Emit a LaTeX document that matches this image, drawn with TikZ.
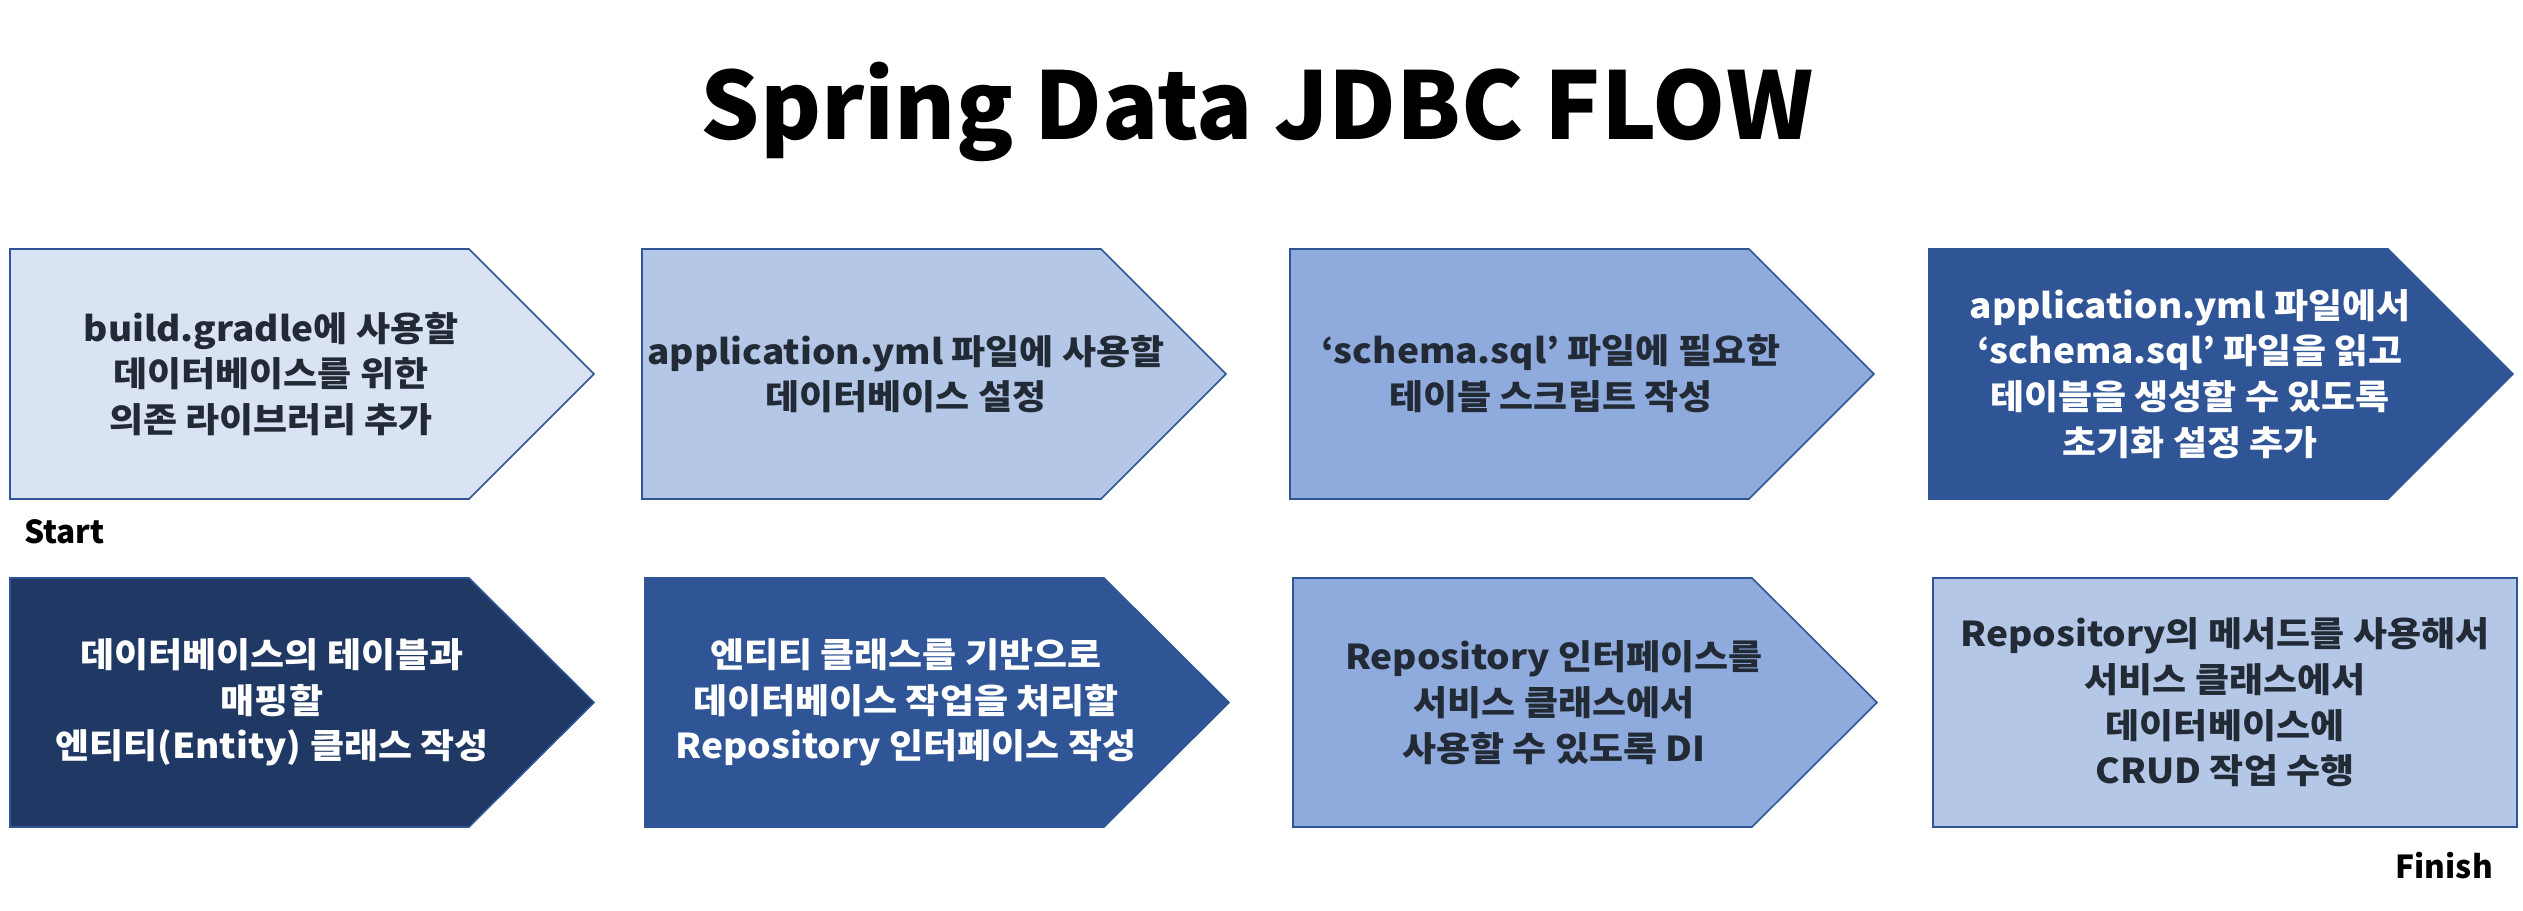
\documentclass[tikz,border=0pt]{standalone}
\usepackage{fontspec}
\setmainfont{Noto Sans CJK KR}
\newfontfamily\stepfont{Noto Sans CJK KR}[FakeStretch=1.08]
\usepackage{xcolor}
\usepackage{tikz}
\usetikzlibrary{positioning}
\definecolor{FlowPale}{RGB}{218, 227, 243}
\definecolor{FlowLight}{RGB}{180, 199, 231}
\definecolor{FlowMid}{RGB}{143, 170, 220}
\definecolor{FlowBlue}{RGB}{47, 85, 151}
\definecolor{FlowNavy}{RGB}{32, 56, 100}
\definecolor{FlowText}{RGB}{34, 42, 53}

\begin{document}
\begin{tikzpicture}[every node/.style={font=\fontsize{18}{25.5}\selectfont\bfseries},
    stepbox/.style={draw=FlowBlue, line width=0.9pt},
    steptext/.style={align=center, text=FlowText, font=\stepfont\fontsize{19.5}{26}\selectfont\bfseries},
    stepwhite/.style={steptext, text=white}]
  \useasboundingbox (0,0) rectangle (50.46,-18.22);
  \node[anchor=base, font=\fontsize{53}{56}\selectfont\bfseries] (title) at (25.14,-2.8) {Spring Data JDBC FLOW};
  % first row
  \draw[stepbox, fill=FlowPale] (0.2,-4.98) -- ++(9.18,0) -- ++(2.5,-2.5) -- ++(-2.5,-2.5) -- ++(-9.18,0) -- cycle;
  \draw[stepbox, fill=FlowLight] (12.84,-4.98) -- ++(9.18,0) -- ++(2.5,-2.5) -- ++(-2.5,-2.5) -- ++(-9.18,0) -- cycle;
  \draw[stepbox, fill=FlowMid] (25.8,-4.98) -- ++(9.18,0) -- ++(2.5,-2.5) -- ++(-2.5,-2.5) -- ++(-9.18,0) -- cycle;
  \draw[stepbox, fill=FlowBlue] (38.58,-4.98) -- ++(9.18,0) -- ++(2.5,-2.5) -- ++(-2.5,-2.5) -- ++(-9.18,0) -- cycle;
  \node[steptext] (s1) at (5.42,-7.48) {build.gradle에 사용할\\데이터베이스를 위한\\의존 라이브러리 추가};
  \node[steptext] (s2) at (18.12,-7.48) {application.yml 파일에 사용할\\데이터베이스 설정};
  \node[steptext] (s3) at (31.02,-7.48) {‘schema.sql’ 파일에 필요한\\테이블 스크립트 작성};
  \node[stepwhite] (s4) at (43.80,-7.48) {application.yml 파일에서\\‘schema.sql’ 파일을 읽고\\테이블을 생성할 수 있도록\\초기화 설정 추가};
  \node[anchor=base west] (start) at (0.36,-10.86) {Start};
  % second row
  \draw[stepbox, fill=FlowNavy] (0.2,-11.56) -- ++(9.18,0) -- ++(2.5,-2.49) -- ++(-2.5,-2.49) -- ++(-9.18,0) -- cycle;
  \draw[stepbox, fill=FlowBlue] (12.9,-11.56) -- ++(9.18,0) -- ++(2.5,-2.49) -- ++(-2.5,-2.49) -- ++(-9.18,0) -- cycle;
  \draw[stepbox, fill=FlowMid] (25.86,-11.56) -- ++(9.18,0) -- ++(2.5,-2.49) -- ++(-2.5,-2.49) -- ++(-9.18,0) -- cycle;
  \draw[stepbox, fill=FlowLight] (38.66,-11.56) rectangle (50.34,-16.54);
  \node[stepwhite] (s5) at (5.44,-14.05) {데이터베이스의 테이블과\\매핑할\\엔티티(Entity) 클래스 작성};
  \node[stepwhite] (s6) at (18.12,-14.05) {엔티티 클래스를 기반으로\\데이터베이스 작업을 처리할\\Repository 인터페이스 작성};
  \node[steptext] (s7) at (31.08,-14.05) {Repository 인터페이스를\\서비스 클래스에서\\사용할 수 있도록 DI};
  \node[steptext] (s8) at (44.50,-14.05) {Repository의 메서드를 사용해서\\서비스 클래스에서\\데이터베이스에\\CRUD 작업 수행};
  \node[anchor=base east] (finish) at (49.98,-17.56) {Finish};
\end{tikzpicture}
\end{document}
